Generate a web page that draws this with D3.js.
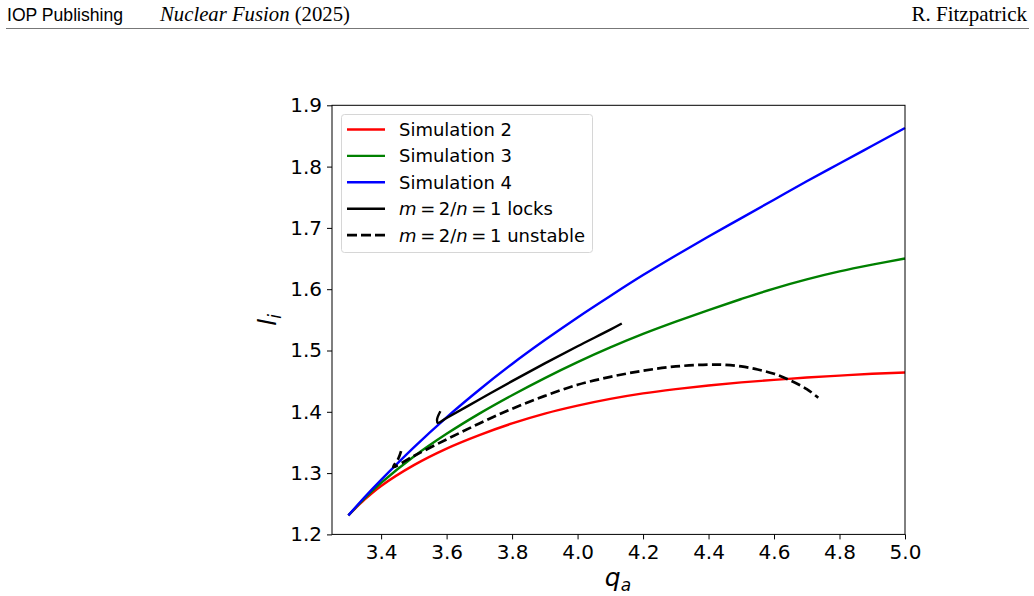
<!DOCTYPE html>
<html>
<head>
<meta charset="utf-8">
<script src="https://cdn.jsdelivr.net/npm/d3@7"></script>
<style>
	body { margin: 0; background: #fff; }
	svg { display: block; }
	.tick text { font-family: "DejaVu Sans", sans-serif; font-size: 20px; fill: #000; }
</style>
</head>
<body>
<div id="chart"></div>
<script>
// q_a values and internal inductance l_i
var sim2 = [[3.30, 1.231], [3.35, 1.257], [3.40, 1.279], [3.50, 1.313], [3.60, 1.340], [3.70, 1.362], [3.80, 1.381], [3.90, 1.397], [4.00, 1.410], [4.10, 1.421], [4.20, 1.430], [4.30, 1.437], [4.40, 1.443], [4.50, 1.448], [4.60, 1.452], [4.70, 1.456], [4.80, 1.459], [4.90, 1.462], [5.00, 1.464]];
var sim3 = [[3.30, 1.231], [3.35, 1.259], [3.40, 1.284], [3.50, 1.327], [3.60, 1.364], [3.70, 1.397], [3.80, 1.427], [3.90, 1.455], [4.00, 1.481], [4.10, 1.505], [4.20, 1.527], [4.30, 1.547], [4.40, 1.566], [4.50, 1.584], [4.60, 1.601], [4.70, 1.616], [4.80, 1.629], [4.90, 1.640], [5.00, 1.650]];
var sim4 = [[3.30, 1.231], [3.35, 1.261], [3.40, 1.289], [3.50, 1.342], [3.60, 1.391], [3.70, 1.436], [3.80, 1.478], [3.90, 1.517], [4.00, 1.554], [4.10, 1.589], [4.20, 1.623], [4.30, 1.655], [4.40, 1.686], [4.50, 1.716], [4.60, 1.746], [4.70, 1.776], [4.80, 1.805], [4.90, 1.834], [5.00, 1.863]];
var locks = [[3.581, 1.401], [3.571, 1.388], [3.573, 1.382], [3.60, 1.390], [3.70, 1.420], [3.80, 1.450], [3.90, 1.479], [4.00, 1.507], [4.10, 1.534], [4.135, 1.544]];
var unstable = [[3.461, 1.336], [3.452, 1.323], [3.437, 1.310], [3.50, 1.328], [3.60, 1.355], [3.70, 1.381], [3.80, 1.405], [3.90, 1.426], [4.00, 1.444], [4.10, 1.457], [4.20, 1.467], [4.30, 1.474], [4.40, 1.477], [4.45, 1.4765], [4.50, 1.474], [4.55, 1.469], [4.60, 1.462], [4.65, 1.451], [4.70, 1.437], [4.735, 1.423]];

var xTicks = [3.4, 3.6, 3.8, 4.0, 4.2, 4.4, 4.6, 4.8, 5.0];
var yTicks = [1.2, 1.3, 1.4, 1.5, 1.6, 1.7, 1.8, 1.9];

var series = [
	{ name: "Simulation 2", data: sim2, color: "#ff0000", dash: null },
	{ name: "Simulation 3", data: sim3, color: "#008000", dash: null },
	{ name: "Simulation 4", data: sim4, color: "#0000ff", dash: null },
	{ name: "locks", data: locks, color: "#000000", dash: null },
	{ name: "unstable", data: unstable, color: "#000000", dash: "9.5,4.2" }
];

var width = 1034, height = 596;
var plotL = 332, plotR = 905, plotT = 105.3, plotB = 534.4;

var svg = d3.select("#chart").append("svg")
	.attr("width", width)
	.attr("height", height);

// page header
svg.append("text").attr("x", 7).attr("y", 21)
	.attr("font-family", "Liberation Sans, sans-serif").attr("font-size", 18)
	.attr("textLength", 116).attr("lengthAdjust", "spacingAndGlyphs")
	.text("IOP Publishing");
var jt = svg.append("text").attr("x", 160).attr("y", 21)
	.attr("font-family", "Liberation Serif, serif").attr("font-size", 21)
	.attr("textLength", 190).attr("lengthAdjust", "spacingAndGlyphs");
jt.append("tspan").attr("font-style", "italic").text("Nuclear Fusion");
jt.append("tspan").text(" (2025)");
svg.append("text").attr("x", 1027).attr("y", 21)
	.attr("text-anchor", "end")
	.attr("font-family", "Liberation Serif, serif").attr("font-size", 21)
	.text("R. Fitzpatrick");
svg.append("line").attr("x1", 6).attr("x2", 1029).attr("y1", 28.5).attr("y2", 28.5)
	.attr("stroke", "#777").attr("stroke-width", 1);

var x = d3.scaleLinear().domain([3.25, 5.0]).range([plotL, plotR]);
var y = d3.scaleLinear().domain([1.2, 1.9]).range([plotB, plotT]);

var line = d3.line()
	.x(function (d) { return x(d[0]); })
	.y(function (d) { return y(d[1]); })
	.curve(d3.curveCatmullRom);

svg.selectAll("path.series")
	.data(series)
	.enter().append("path")
	.attr("class", "series")
	.attr("d", function (d) { return line(d.data); })
	.attr("fill", "none")
	.attr("stroke", function (d) { return d.color; })
	.attr("stroke-width", function (d) { return d.dash ? 2.7 : 2.4; })
	.attr("stroke-dasharray", function (d) { return d.dash; });

// axes
var xAxis = svg.append("g")
	.attr("transform", "translate(0," + plotB + ")")
	.call(d3.axisBottom(x).tickValues(xTicks).tickFormat(d3.format(".1f")).tickSize(5).tickPadding(5).tickSizeOuter(0));
var yAxis = svg.append("g")
	.attr("transform", "translate(" + plotL + ",0)")
	.call(d3.axisLeft(y).tickValues(yTicks).tickFormat(d3.format(".1f")).tickSize(5).tickPadding(5).tickSizeOuter(0));
xAxis.select(".domain").remove();
yAxis.select(".domain").remove();

svg.append("rect")
	.attr("x", plotL).attr("y", plotT)
	.attr("width", plotR - plotL).attr("height", plotB - plotT)
	.attr("fill", "none").attr("stroke", "#000").attr("stroke-width", 1);

// axis labels
var xl = svg.append("text").attr("x", 618).attr("y", 586)
	.attr("text-anchor", "middle")
	.attr("font-family", "DejaVu Sans, sans-serif").attr("font-size", 25).attr("font-style", "italic");
xl.append("tspan").text("q");
xl.append("tspan").attr("font-size", 17).attr("dy", 5).text("a");

var yl = svg.append("text")
	.attr("transform", "translate(276," + ((plotT + plotB) / 2) + ") rotate(-90)")
	.attr("text-anchor", "middle")
	.attr("font-family", "DejaVu Sans, sans-serif").attr("font-size", 25).attr("font-style", "italic");
yl.append("tspan").text("l");
yl.append("tspan").attr("font-size", 17).attr("dy", 5).text("i");

// legend
var legend = svg.append("g").attr("transform", "translate(341,114)");
legend.append("rect")
	.attr("x", 0.5).attr("y", 0.5).attr("width", 251).attr("height", 138)
	.attr("rx", 3).attr("fill", "#fff").attr("fill-opacity", 0.8)
	.attr("stroke", "#d6d6d6").attr("stroke-width", 1);

var rows = legend.selectAll("g.row")
	.data(series)
	.enter().append("g")
	.attr("class", "row")
	.attr("transform", function (d, i) { return "translate(0," + (15.5 + i * 26.4) + ")"; });

rows.append("line")
	.attr("x1", 6).attr("x2", 44)
	.attr("stroke", function (d) { return d.color; })
	.attr("stroke-width", function (d) { return d.dash ? 2.7 : 2.4; })
	.attr("stroke-dasharray", function (d) { return d.dash ? "10,4" : null; });

rows.append("text")
	.attr("x", 58).attr("y", 6.5)
	.attr("font-family", "DejaVu Sans, sans-serif").attr("font-size", 18)
	.each(function (d) {
		var t = d3.select(this);
		if (d.name.indexOf("Simulation") === 0) {
			t.text(d.name);
		} else {
			t.append("tspan").attr("font-style", "italic").text("m");
			t.append("tspan").text("\u2009=\u20092/");
			t.append("tspan").attr("font-style", "italic").text("n");
			t.append("tspan").text("\u2009=\u20091 " + d.name);
		}
	});
</script>
</body>
</html>
